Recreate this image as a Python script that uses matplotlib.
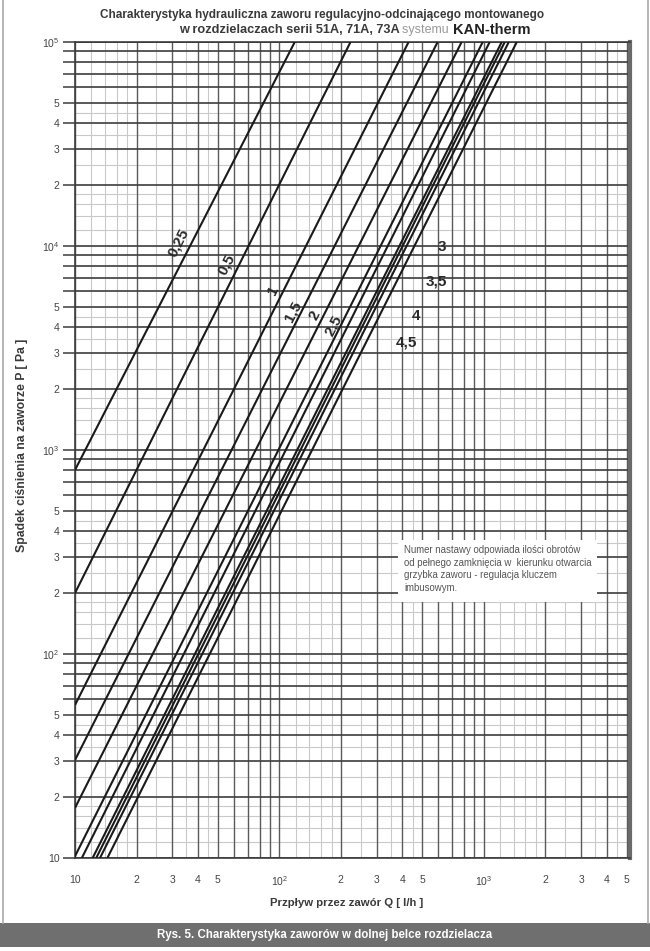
import matplotlib
matplotlib.use('Agg')
import matplotlib.pyplot as plt
from matplotlib.ticker import FixedLocator, FixedFormatter, NullLocator
from matplotlib.patches import Rectangle
from matplotlib.lines import Line2D

plt.rcParams['font.family'] = ['Liberation Sans', 'DejaVu Sans']
plt.rcParams['mathtext.fontset'] = 'custom'
plt.rcParams['mathtext.rm'] = 'Liberation Sans'

# ---- data ----
setting_labels = ['0,25', '0,5', '1', '1,5', '2', '2,5', '3', '3,5', '4', '4,5', '']
q_start = [10, 10, 10, 10, 10, 9.9, 10.8, 12.2, 12.7, 13.25, 14.4]       # l/h
p_start = [798, 199, 56.2, 30.2, 17.6, 10, 10, 10, 10, 10, 10]             # Pa
q_end = [119, 223, 429, 595, 780, 989, 1070, 1225, 1268, 1327, 1452]       # l/h
p_end = [1e5, 1e5, 1e5, 1e5, 1e5, 1e5, 1e5, 1e5, 1e5, 1e5, 1e5]            # Pa

# label anchor points (data coords)
label_q = [32.0, 55.0, 93.5, 117, 148.5, 184, 622, 589, 464, 419]
label_p = [10350, 8070, 6085, 4750, 4590, 4055, 9890, 6670, 4540, 3350]
label_rot = [63, 63, 63, 63, 63, 63, 0, 0, 0, 0]

x_tick_vals = [10, 20, 30, 40, 50, 100, 200, 300, 400, 500, 1000, 2000, 3000, 4000, 5000]
x_tick_text = ['10', '2', '3', '4', '5', r'$\mathregular{10^{2}}$', '2', '3', '4', '5',
               r'$\mathregular{10^{3}}$', '2', '3', '4', '5']
y_tick_vals = [10, 20, 30, 40, 50, 100, 200, 300, 400, 500, 1000, 2000, 3000, 4000, 5000,
               1e4, 2e4, 3e4, 4e4, 5e4, 1e5]
y_tick_text = ['10', '2', '3', '4', '5', r'$\mathregular{10^{2}}$', '2', '3', '4', '5',
               r'$\mathregular{10^{3}}$', '2', '3', '4', '5',
               r'$\mathregular{10^{4}}$', '2', '3', '4', '5', r'$\mathregular{10^{5}}$']

title1 = 'Charakterystyka hydrauliczna zaworu regulacyjno-odcinającego montowanego'
title2a = 'w rozdzielaczach serii 51A, 71A, 73A '
title2b = 'systemu '
title2c = 'KAN-therm'
xlabel = 'Przpływ przez zawór Q [ l/h ]'
ylabel = 'Spadek ciśnienia na zaworze P [ Pa ]'
note = ('Numer nastawy odpowiada ilości obrotów\n'
        'od pełnego zamknięcia w  kierunku otwarcia\n'
        'grzybka zaworu - regulacja kluczem\n'
        'imbusowym.')
caption = 'Rys. 5. Charakterystyka zaworów w dolnej belce rozdzielacza'

W, H = 650, 951
fig = plt.figure(figsize=(W / 100, H / 100), dpi=100)
fig.patch.set_facecolor('white')
ax = fig.add_axes([75 / W, 1 - 858 / H, 555 / W, 816 / H])
ax.set_xscale('log')
ax.set_yscale('log')
xmax = 5200
ax.set_xlim(10, xmax)
ax.set_ylim(10, 1e5)

dark_mult = [1, 2, 3, 4, 5, 6, 7, 8, 9]
light_mult = [1.2, 1.4, 1.6, 1.8, 2.5, 3.5, 4.5]
for dec in [10, 100, 1000]:
    for m in light_mult:
        if m * dec < xmax:
            ax.axvline(m * dec, color='#c9c9c9', lw=0.8, zorder=0.5)
    for m in dark_mult:
        if m * dec < xmax:
            ax.axvline(m * dec, color='#5a5a5a', lw=1.0, zorder=1)
for dec in [10, 100, 1000, 10000]:
    for m in light_mult:
        ax.axhline(m * dec, color='#c9c9c9', lw=0.8, zorder=0.5)
    for m in dark_mult:
        ax.axhline(m * dec, color='#3c3c3c', lw=1.2, zorder=1)
ax.axhline(1e5, color='#3c3c3c', lw=1.4, zorder=1)

# y ticks extend left at every dark line
y_all = [m * d for d in [10, 100, 1000, 10000] for m in dark_mult] + [1e5]
ax.yaxis.set_major_locator(FixedLocator(y_all))
ylab_map = dict(zip(y_tick_vals, y_tick_text))
ax.yaxis.set_major_formatter(FixedFormatter([ylab_map.get(v, '') for v in y_all]))
ax.yaxis.set_minor_locator(NullLocator())
ax.tick_params(axis='y', which='major', length=9, width=1.1, color='#3c3c3c',
               labelsize=7.5, labelcolor='#444444', pad=2)
ax.xaxis.set_major_locator(FixedLocator(x_tick_vals))
ax.xaxis.set_major_formatter(FixedFormatter(x_tick_text))
ax.xaxis.set_minor_locator(NullLocator())
ax.tick_params(axis='x', which='major', length=0, labelsize=7.5, labelcolor='#444444', pad=12)

for s in ['left', 'bottom', 'top']:
    ax.spines[s].set_color('#3c3c3c')
    ax.spines[s].set_linewidth(1.2)
ax.spines['right'].set_color('#6a6a6a')
ax.spines['right'].set_linewidth(3.0)

# characteristic lines
for qs, ps, qe, pe in zip(q_start, p_start, q_end, p_end):
    ax.plot([qs, qe], [ps, pe], color='#1a1a1a', lw=1.5, zorder=3, solid_capstyle='butt')

for lab, q, p, r in zip(setting_labels, label_q, label_p, label_rot):
    ax.text(q, p, lab, rotation=r, ha='center', va='center', fontsize=11,
            fontweight='bold', color='#2a2a2a', zorder=4)

# note box
ax.add_patch(Rectangle((0.582, 0.3137), 0.3585, 0.076, transform=ax.transAxes,
                       facecolor='white', edgecolor='none', zorder=3.5))
ax.text(0.593, 0.383, note, transform=ax.transAxes, ha='left', va='top',
        fontsize=6.9, color='#555555', linespacing=1.3, zorder=4)

# titles
fig.text(322 / W, 1 - 15 / H, title1, ha='center', va='center', fontsize=8.5,
         fontweight='bold', color='#3a3a3a')
renderer = fig.canvas.get_renderer()
y2 = 1 - 30 / H
parts = [(title2a, dict(fontsize=9.2, fontweight='bold', color='#3a3a3a')),
         (title2b, dict(fontsize=9, color='#9a9a9a')),
         (title2c, dict(fontsize=10.5, fontweight='bold', color='#222222'))]
texts = []
x0 = 0
for s, kw in parts:
    t = fig.text(x0 / W, y2, s, ha='left', va='center', **kw)
    x0 = t.get_window_extent(renderer).x1
    texts.append(t)
shift = 530 - x0
for t in texts:
    px = t.get_window_extent(renderer).x0
    t.set_x((px + shift) / W)

fig.text(347 / W, 1 - 903 / H, xlabel, ha='center', va='center', fontsize=8.2,
         fontweight='bold', color='#3a3a3a')
fig.text(22 / W, 1 - 445 / H, ylabel, ha='center', va='center', rotation=90,
         fontsize=8.8, fontweight='bold', color='#3a3a3a')

# frame and caption bar
fig.add_artist(Line2D([2.5 / W, 2.5 / W], [1 - 923 / H, 1], color='#aaaaaa', lw=1.2))
fig.add_artist(Line2D([647.5 / W, 647.5 / W], [1 - 923 / H, 1], color='#aaaaaa', lw=1.2))
fig.add_artist(Rectangle((0, 1 - 947 / H), 1, 24 / H, transform=fig.transFigure,
                         facecolor='#6f6f6f', edgecolor='none'))
fig.text(0.5, 1 - 935 / H, caption, ha='center', va='center', fontsize=8.3,
         fontweight='bold', color='white')

fig.savefig('out.png', dpi=100)
